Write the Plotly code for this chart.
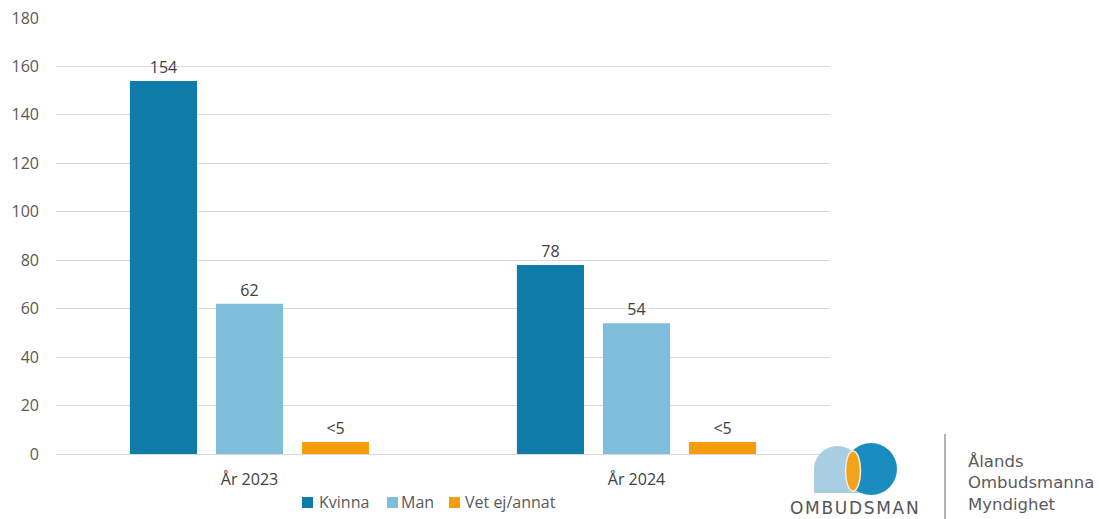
import math
import plotly.graph_objects as go

categories = ["År 2023", "År 2024"]
series_names = ["Kvinna", "Man", "Vet ej/annat"]
kvinna = [154, 78]
man = [62, 54]
vet_ej = [5, 5]
kvinna_labels = ["154", "78"]
man_labels = ["62", "54"]
vet_ej_labels = ["<5", "<5"]
y_ticks = [0, 20, 40, 60, 80, 100, 120, 140, 160, 180]

W, H = 1099, 519
L, R, T, B = 56, 269, 18, 65
PW, PH = W - L - R, H - T - B


def px(x):
    return (x - L) / PW


def py(y):
    return (H - B - y) / PH


FONT = "Open Sans"
COLORS = ["#0F7BA9", "#7FBEDB", "#F59D0E"]

fig = go.Figure()
for name, vals, labels, color in zip(series_names, [kvinna, man, vet_ej],
                                     [kvinna_labels, man_labels, vet_ej_labels], COLORS):
    fig.add_trace(go.Bar(
        x=categories, y=vals, name=name, marker_color=color,
        marker_line_width=0, showlegend=False,
        text=labels, textposition="outside", cliponaxis=False,
        textfont=dict(family=FONT, size=16, color="#404040"),
    ))

shapes = []
annotations = []

# Legend (drawn manually for tight spacing)
legend_sq_x = [302, 387, 449]
legend_tx_x = [317, 399, 463]
for name, color, sx, tx in zip(series_names, COLORS, legend_sq_x, legend_tx_x):
    shapes.append(dict(type="rect", xref="paper", yref="paper",
                       x0=px(sx), x1=px(sx + 11), y0=py(508), y1=py(497),
                       fillcolor=color, line=dict(width=0)))
    annotations.append(dict(xref="paper", yref="paper", x=px(tx), y=py(502),
                            text=name, showarrow=False, xanchor="left", yanchor="middle",
                            font=dict(family=FONT, size=16, color="#595959")))

# Logo: light blue dome
x0, x1, yt, yb = 814, 861, 446, 493
r = (x1 - x0) / 2
cx = (x0 + x1) / 2
path = f"M {px(x0)},{py(yb)} L {px(x0)},{py(yt + r)} "
for i in range(0, 21):
    a = math.pi - math.pi * i / 20
    path += f"L {px(cx + r * math.cos(a))},{py(yt + r - r * math.sin(a))} "
path += f"L {px(x1)},{py(yb)} Z"
shapes.append(dict(type="path", xref="paper", yref="paper", path=path,
                   fillcolor="#A9CDE3", line=dict(width=0), layer="above"))
# dark blue circle
shapes.append(dict(type="circle", xref="paper", yref="paper",
                   x0=px(845), x1=px(897), y0=py(495), y1=py(443),
                   fillcolor="#1A8DC0", line=dict(width=0), layer="above"))
# orange lens
shapes.append(dict(type="circle", xref="paper", yref="paper",
                   x0=px(845.5), x1=px(860.5), y0=py(491), y1=py(451),
                   fillcolor="#F2A21B", line=dict(color="#F4F0D8", width=1.5), layer="above"))
# separator line
shapes.append(dict(type="line", xref="paper", yref="paper",
                   x0=px(945), x1=px(945), y0=py(434), y1=py(519),
                   line=dict(color="#9A9A9A", width=1.5), layer="above"))

hs = "\u200a"
annotations += [
    dict(xref="paper", yref="paper", x=px(854), y=py(519), text=hs.join("OMBUDSMAN"),
         showarrow=False, xanchor="center", yanchor="bottom", borderpad=0,
         font=dict(family="DejaVu Sans", size=17, color="#555555")),
    dict(xref="paper", yref="paper", x=px(966), y=py(483),
         text="Ålands<br>Ombudsmanna<br>Myndighet",
         showarrow=False, xanchor="left", yanchor="middle", align="left",
         font=dict(family="DejaVu Sans", size=16.5, color="#5A5A5A")),
]

fig.update_layout(
    width=W, height=H,
    margin=dict(l=L, r=R, t=T, b=B, autoexpand=False),
    paper_bgcolor="white", plot_bgcolor="white",
    barmode="group", bargap=0.333, bargroupgap=0.22,
    font=dict(family=FONT, size=16, color="#595959"),
    showlegend=False,
    xaxis=dict(showgrid=False, showline=True, linecolor="#D9D9D9", linewidth=1,
               ticks="", ticklabelstandoff=11,
               tickfont=dict(family=FONT, size=16, color="#404040")),
    yaxis=dict(range=[0, 180], tickvals=y_ticks, showgrid=True,
               gridcolor="#D9D9D9", gridwidth=1, zeroline=False, showline=False,
               ticks="", ticklabelstandoff=16,
               tickfont=dict(family=FONT, size=16, color="#595959")),
    shapes=shapes, annotations=annotations,
)

fig.write_html("out.html", config={"displayModeBar": False},
               post_script="document.body.style.margin='0';")
